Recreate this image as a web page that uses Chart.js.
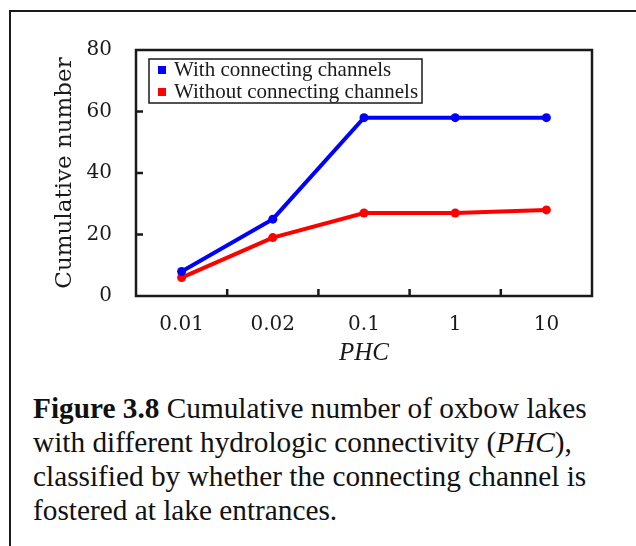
<!DOCTYPE html>
<html>
<head>
<meta charset="utf-8">
<script src="https://cdn.jsdelivr.net/npm/chart.js@4.4.0/dist/chart.umd.min.js"></script>
<style>
  html, body { margin: 0; padding: 0; background: #fff; width: 636px; height: 546px; overflow: hidden; }
  #frame { position: absolute; left: 9px; top: 10px; width: 700px; height: 600px; border: 2px solid #1a1a1a; }
  #chartBox { position: absolute; left: 0; top: 0; }
  #caption {
    position: absolute; left: 33px; top: 391px;
    font-family: "Liberation Serif", serif; font-size: 29.3px; line-height: 34px;
    color: #111; white-space: nowrap;
  }
</style>
</head>
<body>
<div id="frame"></div>
<div id="chartBox"><canvas id="myLineChart" width="636" height="380"></canvas></div>
<div id="caption"><b>Figure 3.8</b> Cumulative number of oxbow lakes<br>with different hydrologic connectivity (<i>PHC</i>),<br>classified by whether the connecting channel is<br>fostered at lake entrances.</div>

<script>
// Data
const phcLabels = ['0.01', '0.02', '0.1', '1', '10'];
const withChannels = [8, 25, 58, 58, 58];
const withoutChannels = [6, 19, 27, 27, 28];
const yTicks = [0, 20, 40, 60, 80];
const seriesNames = ['With connecting channels', 'Without connecting channels'];
const seriesColors = ['rgb(0, 0, 255)', 'rgb(255, 0, 0)'];

const inkColor = '#1a1a1a';

// Kotak plot, tick ke dalam, dan legenda di dalam area
const framePlugin = {
  id: 'framePlugin',
  afterDraw(chart) {
    const ctx = chart.ctx;
    const area = chart.chartArea;
    const xs = chart.scales.x;
    const ys = chart.scales.y;
    ctx.save();
    ctx.strokeStyle = inkColor;
    ctx.lineWidth = 2.5;
    ctx.strokeRect(area.left, area.top, area.right - area.left, area.bottom - area.top);

    ctx.beginPath();
    for (let i = 0; i < phcLabels.length - 1; i++) {
      const px = (xs.getPixelForValue(i) + xs.getPixelForValue(i + 1)) / 2;
      ctx.moveTo(px, area.bottom);
      ctx.lineTo(px, area.bottom - 7);
    }
    yTicks.slice(1, -1).forEach(v => {
      const py = ys.getPixelForValue(v);
      ctx.moveTo(area.left, py);
      ctx.lineTo(area.left + 7, py);
    });
    ctx.stroke();

    // legenda
    const ox = area.left + 13, oy = area.top + 9;
    ctx.lineWidth = 1.5;
    ctx.strokeRect(ox, oy, 273, 44);
    ctx.font = '21px "Liberation Serif"';
    ctx.textBaseline = 'middle';
    chart.data.datasets.forEach((ds, i) => {
      const cy = oy + 11 + i * 22;
      ctx.fillStyle = ds.borderColor;
      ctx.fillRect(ox + 9, cy - 4, 8, 8);
      ctx.fillStyle = inkColor;
      ctx.fillText(ds.label, ox + 25, cy);
    });
    ctx.restore();
  }
};

const configLine = {
  type: 'line',
  data: {
    labels: phcLabels,
    datasets: [
      {
        label: seriesNames[0],
        data: withChannels,
        borderColor: seriesColors[0],
        backgroundColor: seriesColors[0],
        pointBackgroundColor: seriesColors[0],
        borderWidth: 4,
        pointRadius: 4.5,
        pointBorderWidth: 0,
        tension: 0
      },
      {
        label: seriesNames[1],
        data: withoutChannels,
        borderColor: seriesColors[1],
        backgroundColor: seriesColors[1],
        pointBackgroundColor: seriesColors[1],
        borderWidth: 4,
        pointRadius: 4.5,
        pointBorderWidth: 0,
        tension: 0
      }
    ]
  },
  options: {
    responsive: false,
    devicePixelRatio: 1,
    animation: false,
    layout: { padding: { left: 0, top: 50, right: 44, bottom: 0 } },
    plugins: {
      legend: { display: false },
      tooltip: { enabled: false }
    },
    scales: {
      x: {
        type: 'category',
        offset: true,
        grid: { display: false, drawTicks: false, offset: true },
        border: { display: false },
        ticks: {
          padding: 17,
          color: inkColor,
          autoSkip: false,
          maxRotation: 0,
          font: { family: 'DejaVu Serif', size: 20 }
        },
        title: {
          display: true,
          text: 'PHC',
          color: inkColor,
          font: { family: 'Liberation Serif', size: 25, style: 'italic' },
          padding: { top: 0, bottom: 12 }
        },
        afterFit(scale) { scale.height = 84; }
      },
      y: {
        min: yTicks[0],
        max: yTicks[yTicks.length - 1],
        grid: { display: false, drawTicks: false },
        border: { display: false },
        afterBuildTicks(scale) { scale.ticks = yTicks.map(v => ({ value: v })); },
        ticks: {
          padding: 24,
          color: inkColor,
          font: { family: 'DejaVu Serif', size: 20 }
        },
        title: {
          display: true,
          text: 'Cumulative number',
          color: inkColor,
          font: { family: 'DejaVu Serif', size: 23 },
          padding: { top: 51, bottom: 0 }
        },
        afterFit(scale) { scale.width = 136; }
      }
    }
  },
  plugins: [framePlugin]
};

const myLineChart = new Chart(document.getElementById('myLineChart'), configLine);
</script>
</body>
</html>
